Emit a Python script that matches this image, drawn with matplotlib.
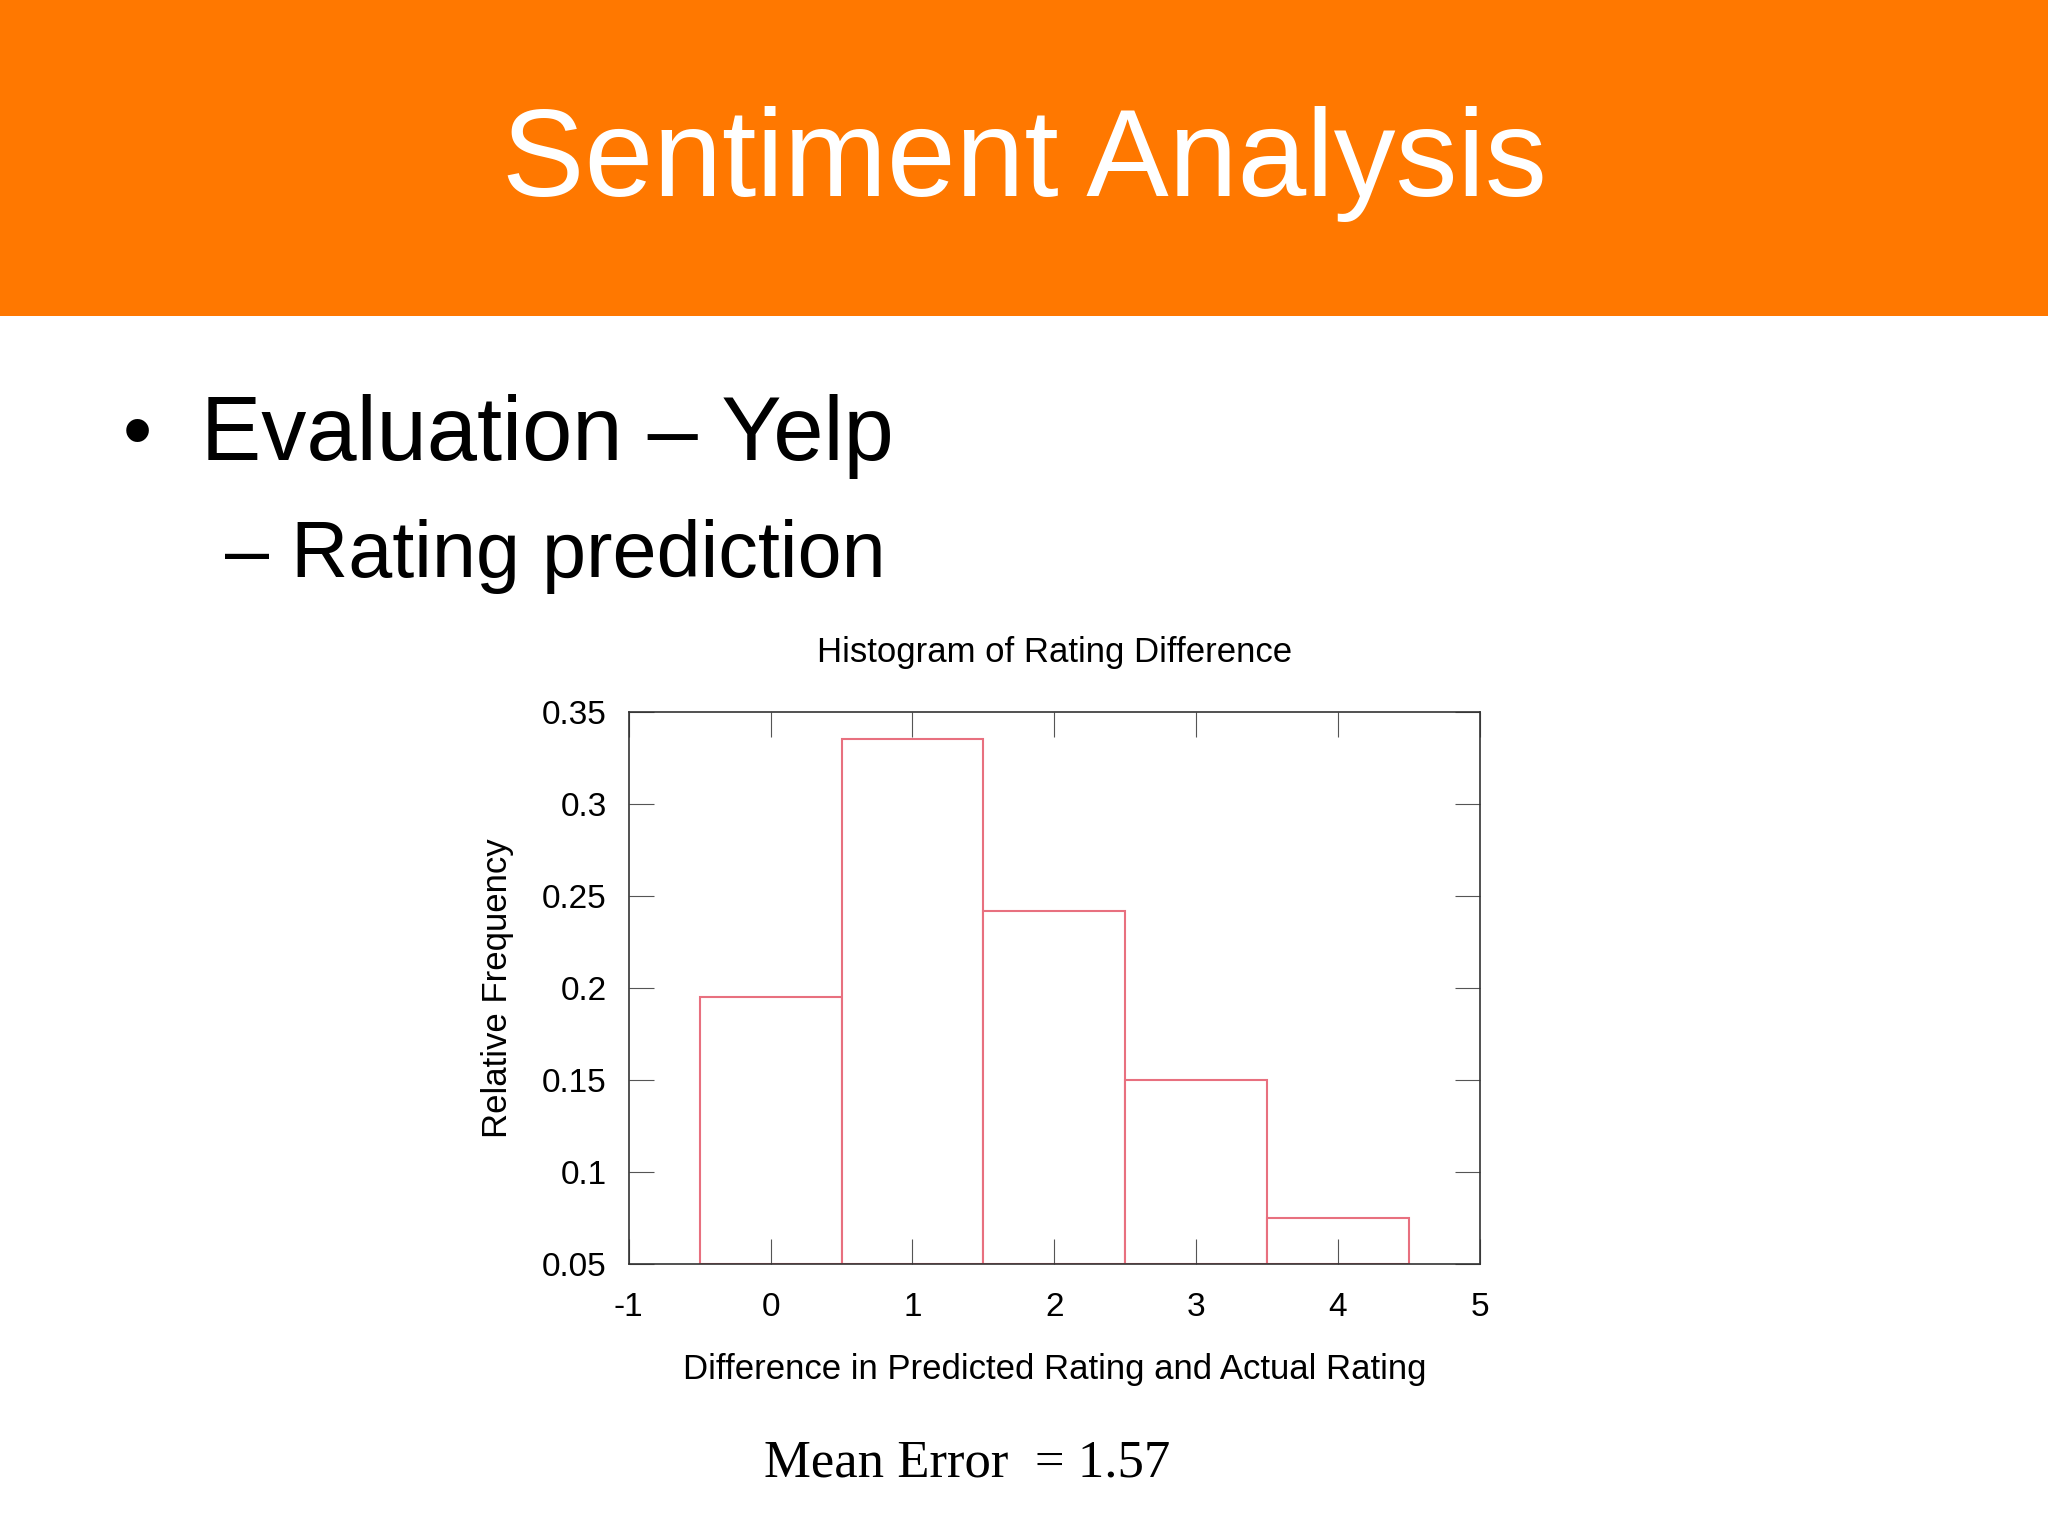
import matplotlib
matplotlib.use("Agg")
import matplotlib.pyplot as plt
from matplotlib.patches import Rectangle

bins = [0, 1, 2, 3, 4]
freq = [0.195, 0.335, 0.242, 0.150, 0.075]
xticks = [-1, 0, 1, 2, 3, 4, 5]
xtick_labels = ["-1", "0", "1", "2", "3", "4", "5"]
yticks = [0.05, 0.1, 0.15, 0.2, 0.25, 0.3, 0.35]
ytick_labels = ["0.05", "0.1", "0.15", "0.2", "0.25", "0.3", "0.35"]

plt.rcParams['font.family'] = ['Liberation Sans', 'DejaVu Sans']
fig = plt.figure(figsize=(20.48, 15.36), dpi=100)
fig.patch.set_facecolor('white')

fig.patches.append(Rectangle((0, 0.794), 1, 0.206, transform=fig.transFigure,
                             facecolor='#FF7800', edgecolor='none', zorder=0))
fig.text(0.5, 0.893, "Sentiment Analysis", color='white', fontsize=89,
         ha='center', va='center')
fig.text(0.06, 0.716, "•", fontsize=60, va='center')
fig.text(0.098, 0.716, "Evaluation – Yelp", fontsize=65, va='center')
fig.text(0.11, 0.638, "– Rating prediction", fontsize=57, va='center')

ax = fig.add_axes([0.307, 0.177, 0.4156, 0.3596])
ax.bar(bins, [f - 0.05 for f in freq], bottom=0.05, width=1.0,
       facecolor='white', edgecolor='#e8707f', linewidth=1.5)
ax.set_xlim(-1, 5)
ax.set_ylim(0.05, 0.35)
ax.set_xticks(xticks)
ax.set_xticklabels(xtick_labels)
ax.set_yticks(yticks)
ax.set_yticklabels(ytick_labels)
ax.tick_params(direction='in', length=18, top=True, right=True, labelsize=24,
               pad=16, color='#555555')
ax.tick_params(axis='x', pad=20)
for s in ax.spines.values():
    s.set_color('#333333')
    s.set_linewidth(1.2)
ax.set_title("Histogram of Rating Difference", fontsize=25, pad=36)
ax.set_xlabel("Difference in Predicted Rating and Actual Rating", fontsize=25, labelpad=22)
ax.set_ylabel("Relative Frequency", fontsize=25, labelpad=20)

fig.text(0.472, 0.047, "Mean Error  = 1.57", fontsize=38, ha='center', va='center',
         family=['Liberation Serif', 'DejaVu Serif'])

fig.savefig("out.png", dpi=100)
